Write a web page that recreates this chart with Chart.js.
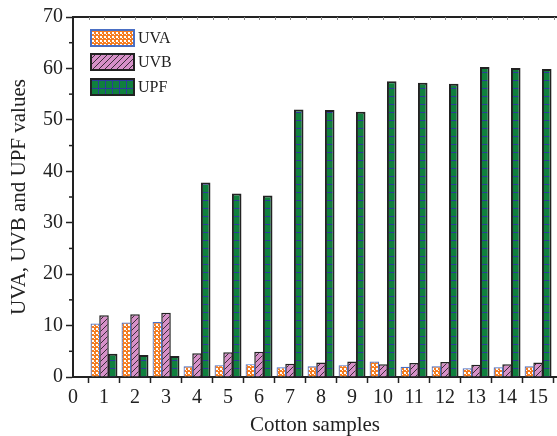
<!DOCTYPE html>
<html>
<head>
<meta charset="utf-8">
<script src="https://cdn.jsdelivr.net/npm/chart.js@4"></script>
<style>
  html, body { margin: 0; padding: 0; background: #fff; }
</style>
</head>
<body>
<canvas id="chart" width="557" height="436"></canvas>
<script>
// values
const samples = [1, 2, 3, 4, 5, 6, 7, 8, 9, 10, 11, 12, 13, 14, 15];
const uva = [10.4, 10.6, 10.7, 2.1, 2.3, 2.5, 1.9, 2.1, 2.3, 3.0, 2.0, 2.1, 1.7, 1.9, 2.1];
const uvb = [12.0, 12.2, 12.5, 4.6, 4.8, 4.9, 2.6, 2.8, 3.0, 2.5, 2.7, 2.9, 2.4, 2.5, 2.8];
const upf = [4.5, 4.3, 4.1, 37.8, 35.7, 35.3, 52.0, 51.9, 51.6, 57.5, 57.2, 57.0, 60.3, 60.1, 59.9];
const xTicks = [0, 1, 2, 3, 4, 5, 6, 7, 8, 9, 10, 11, 12, 13, 14, 15];
const seriesNames = ["UVA", "UVB", "UPF"];

const FONT = "'Liberation Serif', 'Times New Roman', serif";
const INK = "#222";

const canvas = document.getElementById("chart");
const mainCtx = canvas.getContext("2d");

function makePattern(size, draw) {
  const c = document.createElement("canvas");
  c.width = size;
  c.height = size;
  const g = c.getContext("2d");
  draw(g, size);
  return mainCtx.createPattern(c, "repeat");
}

// orange with white checks
const uvaFill = makePattern(4, function (g) {
  g.fillStyle = "#f57d22";
  g.fillRect(0, 0, 4, 4);
  g.fillStyle = "#fff";
  g.fillRect(0, 0, 2, 2);
  g.fillRect(2, 2, 1, 1);
});

// pink with diagonal hatch
const uvbFill = makePattern(6, function (g) {
  g.fillStyle = "#d690c8";
  g.fillRect(0, 0, 6, 6);
  g.strokeStyle = "#3b2b38";
  g.lineWidth = 1;
  g.beginPath();
  g.moveTo(-1, 7); g.lineTo(7, -1);
  g.moveTo(-1, 1); g.lineTo(1, -1);
  g.moveTo(5, 7); g.lineTo(7, 5);
  g.stroke();
});

// green with blue horizontal lines
const upfFill = makePattern(8, function (g) {
  g.fillStyle = "#10803e";
  g.fillRect(0, 0, 8, 8);
  g.fillStyle = "#2c3a9c";
  g.fillRect(0, 0, 8, 1);
});

function points(values) {
  return values.map(function (v, i) { return { x: samples[i], y: v }; });
}

const axisDecor = {
  id: "axisDecor",
  afterDraw: function (chart) {
    const ctx = chart.ctx;
    const xs = chart.scales.x;
    const ys = chart.scales.y;
    const area = chart.chartArea;
    ctx.save();
    ctx.strokeStyle = INK;
    // top frame line
    ctx.lineWidth = 2;
    ctx.beginPath();
    ctx.moveTo(area.left, area.top);
    ctx.lineTo(area.right, area.top);
    ctx.stroke();
    // small inward ticks along top, every half unit
    ctx.lineWidth = 1;
    ctx.strokeStyle = "#888";
    for (let v = 0.5; v <= 15.5; v += 0.5) {
      const px = Math.round(xs.getPixelForValue(v)) + 0.5;
      ctx.beginPath();
      ctx.moveTo(px, area.top);
      ctx.lineTo(px, area.top + 3);
      ctx.stroke();
    }
    // minor y ticks
    ctx.strokeStyle = INK;
    ctx.lineWidth = 1.5;
    for (let v = 5; v < 70; v += 10) {
      const py = ys.getPixelForValue(v);
      ctx.beginPath();
      ctx.moveTo(area.left - 4, py);
      ctx.lineTo(area.left, py);
      ctx.stroke();
    }

    // legend
    const fills = [uvaFill, uvbFill, upfFill];
    const borders = ["#4a6fc4", INK, INK];
    const rowsY = [38, 62, 87];
    ctx.font = "16px " + FONT;
    ctx.textBaseline = "middle";
    ctx.textAlign = "left";
    for (let i = 0; i < 3; i++) {
      const x = 91, y = rowsY[i] - 8, w = 43, h = 16;
      ctx.fillStyle = fills[i];
      ctx.fillRect(x, y, w, h);
      if (i === 2) {
        ctx.fillStyle = "#2c3a9c";
        for (let vx = x + 7; vx < x + w; vx += 7) ctx.fillRect(vx, y, 1, h);
      }
      ctx.strokeStyle = borders[i];
      ctx.lineWidth = 2;
      ctx.strokeRect(x, y, w, h);
      ctx.fillStyle = INK;
      ctx.fillText(seriesNames[i], 138, rowsY[i] + 1);
    }
    ctx.restore();
  },
};

new Chart(canvas, {
  type: "bar",
  data: {
    datasets: [
      {
        label: seriesNames[0],
        data: points(uva),
        backgroundColor: uvaFill,
        borderColor: "#4a6fc4",
        borderWidth: 1.2,
      },
      {
        label: seriesNames[1],
        data: points(uvb),
        backgroundColor: uvbFill,
        borderColor: INK,
        borderWidth: 1.5,
      },
      {
        label: seriesNames[2],
        data: points(upf),
        backgroundColor: upfFill,
        borderColor: INK,
        borderWidth: 2,
      },
    ],
  },
  options: {
    responsive: false,
    animation: false,
    categoryPercentage: 0.84,
    barPercentage: 1.1,
    layout: {
      padding: { top: 17, right: 0, bottom: 0, left: 0 },
    },
    plugins: {
      legend: { display: false },
      tooltip: { enabled: false },
    },
    scales: {
      x: {
        type: "linear",
        min: 0,
        max: 15.61,
        offset: false,
        afterBuildTicks: function (scale) {
          scale.ticks = xTicks.map(function (v) { return { value: v }; });
        },
        afterFit: function (scale) {
          scale.height = 59;
        },
        ticks: {
          autoSkip: false,
          maxRotation: 0,
          padding: 3,
          color: INK,
          font: { family: FONT, size: 20 },
        },
        grid: {
          drawOnChartArea: false,
          tickLength: 6,
          tickWidth: 1.5,
          tickColor: INK,
        },
        border: { color: INK, width: 2 },
        title: {
          display: true,
          text: "Cotton samples",
          color: INK,
          padding: 0,
          font: { family: FONT, size: 21, lineHeight: 1 },
        },
      },
      y: {
        min: 0,
        max: 70,
        afterFit: function (scale) {
          scale.width = 73;
        },
        ticks: {
          stepSize: 10,
          padding: 3,
          color: INK,
          font: { family: FONT, size: 20 },
        },
        grid: {
          drawOnChartArea: false,
          tickLength: 7,
          tickWidth: 1.5,
          tickColor: INK,
        },
        border: { color: INK, width: 2 },
        title: {
          display: true,
          text: "UVA, UVB and UPF values",
          color: INK,
          padding: { top: 7, bottom: 0 },
          font: { family: FONT, size: 21, lineHeight: 1.2 },
        },
      },
    },
  },
  plugins: [axisDecor],
});
</script>
</body>
</html>
